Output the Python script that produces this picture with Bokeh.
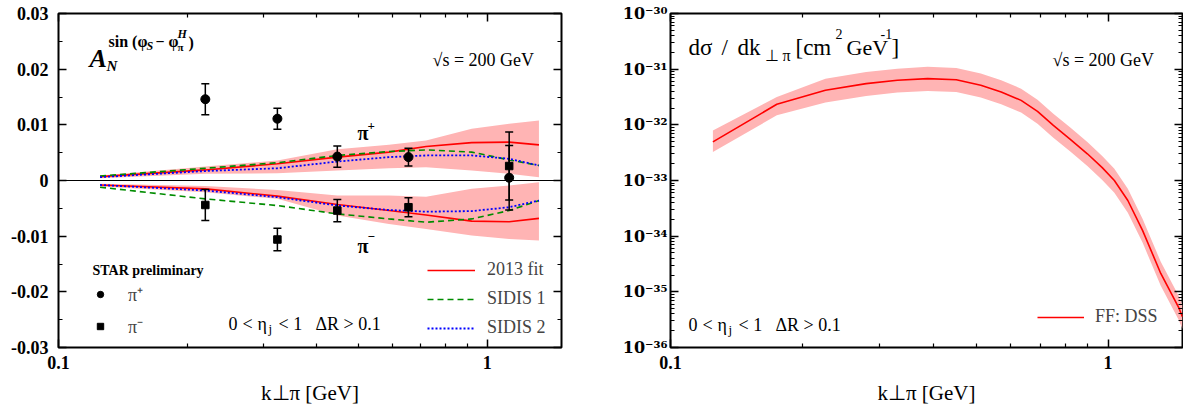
from bokeh.plotting import figure
from bokeh.layouts import row
from bokeh.models import (ColumnDataSource, Whisker, Span, Label, Legend, LegendItem,
                          FixedTicker, LinearAxis, Range1d, TeeHead)
from bokeh.embed import file_html
from bokeh.resources import INLINE

SERIF = "Liberation Serif"

# ---------------- left panel data: A_N^{sin(phi_S - phi_pi^H)} ----------------
k_curve = [0.125, 0.22, 0.324, 0.447, 0.59, 0.72, 0.92, 1.125, 1.32]
fit_pip = [0.0007, 0.0019, 0.0030, 0.0042, 0.0051, 0.0061, 0.0068, 0.0069, 0.0064]
fit_pip_hi = [0.0009, 0.0025, 0.0036, 0.0056, 0.0064, 0.0072, 0.0093, 0.0102, 0.0108]
fit_pip_lo = [0.0004, 0.0012, 0.0013, 0.0018, 0.0022, 0.0024, 0.0018, 0.0012, 0.0006]
sidis1_pip = [0.0008, 0.0022, 0.0032, 0.0045, 0.0052, 0.0055, 0.0051, 0.0037, 0.0027]
sidis2_pip = [0.0006, 0.0017, 0.0022, 0.0034, 0.0042, 0.0045, 0.0045, 0.0039, 0.0027]

fit_pim = [-0.0008, -0.0015, -0.0028, -0.0043, -0.0054, -0.0062, -0.0073, -0.0074, -0.0068]
fit_pim_hi = [-0.0006, -0.0010, -0.0017, -0.0027, -0.0027, -0.0029, -0.0015, -0.0009, -0.0003]
fit_pim_lo = [-0.0011, -0.0021, -0.0033, -0.0063, -0.0078, -0.0087, -0.0099, -0.0105, -0.0108]
sidis1_pim = [-0.0012, -0.0033, -0.0045, -0.0060, -0.0069, -0.0075, -0.0069, -0.0054, -0.0036]
sidis2_pim = [-0.0008, -0.0018, -0.0030, -0.0045, -0.0053, -0.0056, -0.0055, -0.0048, -0.0036]

k_data = [0.22, 0.324, 0.447, 0.655, 1.125]
an_pip = [0.0146, 0.0111, 0.0043, 0.0042, 0.0005]
an_pip_err = [0.0028, 0.0019, 0.0019, 0.0016, 0.0058]
an_pim = [-0.0044, -0.0106, -0.0054, -0.0048, 0.0026]
an_pim_err = [0.0028, 0.0020, 0.0020, 0.0017, 0.0061]

y_ticks_left = [-0.03, -0.02, -0.01, 0.0, 0.01, 0.02, 0.03]
y_tick_labels_left = ["-0.03", "-0.02", "-0.01", "0", "0.01", "0.02", "0.03"]
y_minor_left = [-0.025, -0.015, -0.005, 0.005, 0.015, 0.025]
x_ticks = [0.1, 1.0]
x_tick_labels = ["0.1", "1"]
x_minor = [0.2, 0.3, 0.4, 0.5, 0.6, 0.7, 0.8, 0.9]
x_label = "k⊥π [GeV]"

# ---------------- right panel data: d sigma / dk ----------------
k_xs = [0.125, 0.175, 0.226, 0.28, 0.33, 0.387, 0.45, 0.512, 0.57, 0.633, 0.69,
        0.75, 0.82, 0.897, 0.97, 1.034, 1.11, 1.2, 1.32, 1.45, 1.48]
xs_val = [4.95e-33, 2.34e-32, 4.17e-32, 5.50e-32, 6.31e-32, 6.76e-32, 6.46e-32, 5.13e-32,
          3.89e-32, 2.75e-32, 1.74e-32, 9.77e-33, 5.50e-33, 3.02e-33, 1.70e-33, 1.00e-33,
          4.37e-34, 1.26e-34, 2.14e-35, 5.25e-36, 3.55e-36]
xs_hi = [7.94e-33, 3.16e-32, 6.76e-32, 8.91e-32, 1.02e-31, 1.10e-31, 1.05e-31, 8.32e-32,
         6.31e-32, 4.47e-32, 2.82e-32, 1.58e-32, 8.91e-33, 4.90e-33, 2.75e-33, 1.62e-33,
         7.08e-34, 2.04e-34, 3.47e-35, 8.51e-36, 5.75e-36]
xs_lo = [3.24e-33, 1.48e-32, 2.51e-32, 3.31e-32, 3.80e-32, 4.07e-32, 3.89e-32, 3.09e-32,
         2.34e-32, 1.66e-32, 1.05e-32, 5.89e-33, 3.31e-33, 1.82e-33, 1.02e-33, 6.03e-34,
         2.63e-34, 7.59e-35, 1.29e-35, 3.16e-36, 2.14e-36]
y_exps_right = [-30, -31, -32, -33, -34, -35, -36]
y_tick_labels_right = ["10⁻³⁰", "10⁻³¹", "10⁻³²", "10⁻³³", "10⁻³⁴", "10⁻³⁵", "10⁻³⁶"]

RED = "#ff0000"
BAND = "#ffb4b4"
GREEN = "#008c00"
BLUE = "#0000ff"
FB = 347  # frame bottom pixel (page coordinates)


def style_axis(ax, show_labels, ticker, overrides=None):
    ax.ticker = ticker
    ax.major_tick_in = 8
    ax.major_tick_out = 0
    ax.minor_tick_in = 4
    ax.minor_tick_out = 0
    ax.major_tick_line_color = "black"
    ax.minor_tick_line_color = "black"
    ax.major_tick_line_width = 1.5
    ax.minor_tick_line_width = 1.2
    ax.axis_line_color = None
    ax.major_label_text_font = SERIF
    ax.major_label_text_font_style = "bold"
    ax.major_label_text_font_size = "18px"
    ax.major_label_text_color = "black"
    if overrides:
        ax.major_label_overrides = overrides
    if not show_labels:
        ax.major_label_overrides = {t: "" for t in ticker.ticks}
        ax.major_label_text_font_size = "1px"
        ax.major_label_text_color = None
        ax.major_label_standoff = 0


def xaxis_label(ax):
    ax.axis_label = x_label
    ax.axis_label_text_font = SERIF
    ax.axis_label_text_font_size = "21px"
    ax.axis_label_text_font_style = "normal"
    ax.axis_label_text_color = "black"
    ax.axis_label_standoff = 9


def txt(p, fl, x, y, s, size, style="normal"):
    p.add_layout(Label(x=x - fl, y=FB - y, x_units="screen", y_units="screen", text=s,
                       text_font=SERIF, text_font_size=f"{size}px", text_font_style=style,
                       text_color="black", text_baseline="alphabetic", text_align="left"))


def cuts(p, fl, x0, base):
    txt(p, fl, x0, base, "0", 18)
    txt(p, fl, x0 + 14, base, "<", 18)
    txt(p, fl, x0 + 29, base, "η", 18)
    txt(p, fl, x0 + 40, base + 5, "j", 13)
    txt(p, fl, x0 + 50, base, "< 1", 18)
    txt(p, fl, x0 + 87, base, "ΔR > 0.1", 18)


# ======================= LEFT =======================
FL1 = 58
p1 = figure(width=600, height=408, x_axis_type="log",
            x_range=Range1d(0.1, 1.49), y_range=Range1d(-0.03, 0.03),
            output_backend="svg", toolbar_location=None,
            min_border_left=58, min_border_right=39, min_border_top=13, min_border_bottom=61)
p1.grid.visible = False
p1.outline_line_color = "black"
p1.outline_line_width = 2
p1.background_fill_color = "white"

xt = FixedTicker(ticks=x_ticks, minor_ticks=x_minor)
yt = FixedTicker(ticks=y_ticks_left, minor_ticks=y_minor_left)
style_axis(p1.xaxis[0], True, xt, dict(zip(x_ticks, x_tick_labels)))
p1.xaxis[0].major_label_standoff = 8
xaxis_label(p1.xaxis[0])
style_axis(p1.yaxis[0], True, yt, dict(zip(y_ticks_left, y_tick_labels_left)))
p1.yaxis[0].major_label_standoff = 10
top1 = LinearAxis()
style_axis(top1, False, FixedTicker(ticks=x_ticks, minor_ticks=x_minor))
p1.add_layout(top1, "above")
right1 = LinearAxis()
style_axis(right1, False, FixedTicker(ticks=y_ticks_left, minor_ticks=y_minor_left))
p1.add_layout(right1, "right")

p1.varea(x=k_curve, y1=fit_pip_lo, y2=fit_pip_hi, fill_color=BAND)
p1.varea(x=k_curve, y1=fit_pim_lo, y2=fit_pim_hi, fill_color=BAND)
p1.add_layout(Span(location=0, dimension="width", line_color="black", line_width=1))

r_fit = p1.line(k_curve, fit_pip, line_color=RED, line_width=1.6)
p1.line(k_curve, fit_pim, line_color=RED, line_width=1.6)
r_s1 = p1.line(k_curve, sidis1_pip, line_color=GREEN, line_width=1.6, line_dash="6 4")
p1.line(k_curve, sidis1_pim, line_color=GREEN, line_width=1.6, line_dash="6 4")
r_s2 = p1.line(k_curve, sidis2_pip, line_color=BLUE, line_width=1.8, line_dash="2 2")
p1.line(k_curve, sidis2_pim, line_color=BLUE, line_width=1.8, line_dash="2 2")

src_p = ColumnDataSource(dict(k=k_data, y=an_pip,
                              up=[v + e for v, e in zip(an_pip, an_pip_err)],
                              lo=[v - e for v, e in zip(an_pip, an_pip_err)]))
src_m = ColumnDataSource(dict(k=k_data, y=an_pim,
                              up=[v + e for v, e in zip(an_pim, an_pim_err)],
                              lo=[v - e for v, e in zip(an_pim, an_pim_err)]))
for src in (src_p, src_m):
    w = Whisker(source=src, base="k", upper="up", lower="lo", dimension="height",
                line_color="black", line_width=1.5,
                upper_head=TeeHead(size=8, line_color="black", line_width=1.5),
                lower_head=TeeHead(size=8, line_color="black", line_width=1.5))
    w.level = "annotation"
    p1.add_layout(w)
r_circ = p1.scatter("k", "y", source=src_p, marker="circle", size=9, color="black")
r_sq = p1.scatter("k", "y", source=src_m, marker="square", size=7.5, color="black")

leg1 = Legend(items=[LegendItem(label="2013 fit", renderers=[r_fit]),
                     LegendItem(label="SIDIS 1", renderers=[r_s1]),
                     LegendItem(label="SIDIS 2", renderers=[r_s2])],
              location=(427 - FL1, FB - 338), orientation="vertical",
              glyph_width=48, glyph_height=20, label_height=20, spacing=8,
              label_standoff=12, padding=0, margin=0,
              border_line_alpha=0, background_fill_alpha=0,
              label_text_font=SERIF, label_text_font_size="18px")
p1.add_layout(leg1)
leg2 = Legend(items=[LegendItem(label="π⁺", renderers=[r_circ]),
                     LegendItem(label="π⁻", renderers=[r_sq])],
              location=(92 - FL1, FB - 338), orientation="vertical",
              glyph_width=16, glyph_height=20, label_height=20, spacing=8,
              label_standoff=20, padding=0, margin=0,
              border_line_alpha=0, background_fill_alpha=0,
              label_text_font=SERIF, label_text_font_size="18px")
p1.add_layout(leg2)

txt(p1, FL1, 432, 59, "√s = 200 GeV", 18)
txt(p1, FL1, 89, 58, "A", 26, "bold italic")
txt(p1, FL1, 106, 65, "N", 15, "bold italic")
txt(p1, FL1, 108, 41, "sin (φ", 16, "bold")
txt(p1, FL1, 146, 45, "S", 12, "bold italic")
txt(p1, FL1, 155, 41, "−", 16, "bold")
txt(p1, FL1, 168, 41, "φ", 16, "bold")
txt(p1, FL1, 177, 46, "π", 11, "bold")
txt(p1, FL1, 177, 33, "H", 12, "bold italic")
txt(p1, FL1, 188, 42, ")", 16, "bold")
txt(p1, FL1, 357, 132, "π", 20, "bold")
txt(p1, FL1, 367, 125, "+", 13, "bold")
txt(p1, FL1, 357, 245, "π", 20, "bold")
txt(p1, FL1, 367, 236, "−", 13, "bold")
txt(p1, FL1, 92, 270, "STAR preliminary", 14, "bold")
cuts(p1, FL1, 228, 323)

# ======================= RIGHT =======================
FL2 = 670
p2 = figure(width=583, height=408, x_axis_type="log", y_axis_type="log",
            x_range=Range1d(0.1, 1.48), y_range=Range1d(1e-36, 1e-30),
            output_backend="svg", toolbar_location=None,
            min_border_left=70, min_border_right=1, min_border_top=13, min_border_bottom=61)
p2.grid.visible = False
p2.outline_line_color = "black"
p2.outline_line_width = 2

y_major_r = [10.0 ** e for e in y_exps_right]
y_minor_r = [m * 10.0 ** e for e in y_exps_right[1:] for m in range(2, 10)]
style_axis(p2.xaxis[0], True, FixedTicker(ticks=x_ticks, minor_ticks=x_minor),
           dict(zip(x_ticks, x_tick_labels)))
p2.xaxis[0].major_label_standoff = 8
xaxis_label(p2.xaxis[0])
style_axis(p2.yaxis[0], True, FixedTicker(ticks=y_major_r, minor_ticks=y_minor_r),
           dict(zip(y_major_r, y_tick_labels_right)))
p2.yaxis[0].major_label_standoff = 3
p2.yaxis[0].major_label_text_font = "DejaVu Serif"
p2.yaxis[0].major_label_text_font_size = "16px"
top2 = LinearAxis()
style_axis(top2, False, FixedTicker(ticks=x_ticks, minor_ticks=x_minor))
p2.add_layout(top2, "above")
right2 = LinearAxis()
style_axis(right2, False, FixedTicker(ticks=y_major_r, minor_ticks=y_minor_r))
p2.add_layout(right2, "right")

p2.varea(x=k_xs, y1=xs_lo, y2=xs_hi, fill_color=BAND)
r_dss = p2.line(k_xs, xs_val, line_color=RED, line_width=1.6)

leg3 = Legend(items=[LegendItem(label="FF: DSS", renderers=[r_dss])],
              location=(1037 - FL2, FB - 327), glyph_width=47, glyph_height=20,
              label_height=20, label_standoff=11, padding=0, margin=0,
              border_line_alpha=0, background_fill_alpha=0,
              label_text_font=SERIF, label_text_font_size="18px")
p2.add_layout(leg3)

txt(p2, FL2, 688, 47, "dσ", 23)
txt(p2, FL2, 721, 47, "/", 23)
txt(p2, FL2, 737, 47, "dk", 23)
txt(p2, FL2, 764, 55, "⊥ π", 16)
txt(p2, FL2, 795, 47, "[cm", 23)
txt(p2, FL2, 835, 33, "2", 14)
txt(p2, FL2, 846, 47, "GeV", 22)
txt(p2, FL2, 880, 33, "-1", 14)
txt(p2, FL2, 891, 47, "]", 23)
txt(p2, FL2, 1052, 59, "√s = 200 GeV", 18)
cuts(p2, FL2, 688, 324)

layout = row(p1, p2)
open("out.html", "w").write(file_html(layout, INLINE))
